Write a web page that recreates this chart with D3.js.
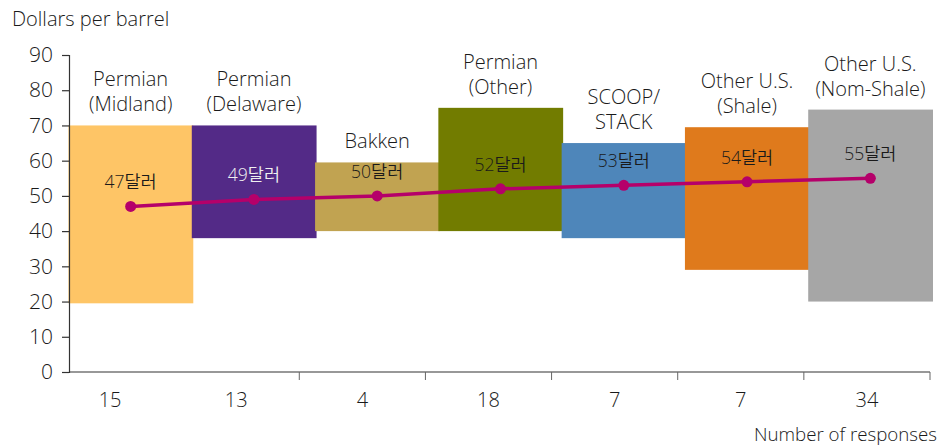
<!DOCTYPE html>
<html>
<head>
<meta charset="utf-8">
<script src="https://cdn.jsdelivr.net/npm/d3@7"></script>
<style>
  html, body { margin: 0; padding: 0; background: #fff; }
  svg { display: block; }
  text { font-family: "Open Sans", "Noto Sans CJK KR", sans-serif; font-weight: 350; fill: #1a1a1a; }
</style>
</head>
<body>
<svg id="chart" width="948" height="446"></svg>
<script>
// Breakeven price ranges by basin (dollars per barrel)
const basins = [
  ["Permian", "(Midland)"],
  ["Permian", "(Delaware)"],
  ["Bakken"],
  ["Permian", "(Other)"],
  ["SCOOP/", "STACK"],
  ["Other U.S.", "(Shale)"],
  ["Other U.S.", "(Nom-Shale)"]
];
const rangeLow  = [19.5, 38, 40, 40, 38, 29, 20];
const rangeHigh = [70, 70, 59.5, 75, 65, 69.5, 74.5];
const average   = [47, 49, 50, 52, 53, 54, 55];
const responses = [15, 13, 4, 18, 7, 7, 34];
const yTicks    = [0, 10, 20, 30, 40, 50, 60, 70, 80, 90];

const barColors = ["#FEC566", "#532A87", "#C1A351", "#727C00", "#4E86BA", "#DF7A1C", "#A6A6A6"];
const valueInk  = ["#1a1a1a", "#f0f0f0", "#1a1a1a", "#1a1a1a", "#1a1a1a", "#1a1a1a", "#1a1a1a"];
const lineColor = "#B5006A";

const svg = d3.select("#chart");
const idx = d3.range(basins.length);

const x = d3.scaleBand().domain(idx).range([69, 932]).padding(0);
const xResp = d3.scaleBand().domain(idx).range([47, 930]).padding(0);
const y = d3.scaleLinear().domain([0, 90]).range([372, 55]);

// floating range bars
svg.append("g").selectAll("rect")
  .data(idx)
  .join("rect")
  .attr("x", i => x(i) - 0.5)
  .attr("width", x.bandwidth() + 1.5)
  .attr("y", i => y(rangeHigh[i]))
  .attr("height", i => y(rangeLow[i]) - y(rangeHigh[i]))
  .attr("fill", i => barColors[i]);

// basin names above each bar
const names = svg.append("g").selectAll("text")
  .data(idx)
  .join("text")
  .attr("text-anchor", "middle")
  .attr("font-size", 20)
  .attr("x", i => x(i) + x.bandwidth() / 2)
  .attr("y", i => y(rangeHigh[i]) - 14 - (basins[i].length - 1) * 25);
names.selectAll("tspan")
  .data(i => basins[i].map(line => ({ line, i })))
  .join("tspan")
  .attr("x", d => x(d.i) + x.bandwidth() / 2)
  .attr("dy", (d, k) => k === 0 ? 0 : 25)
  .text(d => d.line);

// y axis
const yAxis = svg.append("g")
  .attr("transform", "translate(69,0)")
  .call(d3.axisLeft(y).tickValues(yTicks).tickSize(7).tickPadding(9));
yAxis.select(".domain").attr("stroke", "#333").attr("stroke-width", 1.2);
yAxis.selectAll(".tick line").attr("stroke", "#333").attr("stroke-width", 1.2);
yAxis.selectAll(".tick text")
  .attr("font-size", 21)
  .attr("font-family", "\"Open Sans\", sans-serif")
  .attr("font-weight", 350)
  .attr("fill", "#1a1a1a");

// x axis: number of responses per basin
const xAxis = svg.append("g").attr("transform", "translate(0,372)");
xAxis.append("line")
  .attr("x1", 69).attr("x2", xResp.range()[1])
  .attr("stroke", "#333").attr("stroke-width", 1.2);
xAxis.selectAll("line.tk")
  .data(idx.slice(1))
  .join("line")
  .attr("class", "tk")
  .attr("x1", i => xResp(i) + xResp.bandwidth())
  .attr("x2", i => xResp(i) + xResp.bandwidth())
  .attr("y1", 0).attr("y2", 8)
  .attr("stroke", "#666").attr("stroke-width", 1);
xAxis.selectAll("text")
  .data(idx)
  .join("text")
  .attr("text-anchor", "middle")
  .attr("font-size", 20)
  .attr("x", i => xResp(i) + xResp.bandwidth() / 2)
  .attr("y", 35)
  .text(i => responses[i]);

// average line with markers
const px = i => x(i) + x.bandwidth() / 2;
svg.append("path")
  .datum(idx)
  .attr("fill", "none")
  .attr("stroke", lineColor)
  .attr("stroke-width", 3.5)
  .attr("d", d3.line().x(px).y(i => y(average[i])));
svg.append("g").selectAll("circle")
  .data(idx)
  .join("circle")
  .attr("cx", px)
  .attr("cy", i => y(average[i]))
  .attr("r", 5.5)
  .attr("fill", lineColor);

// average value labels
svg.append("g").selectAll("text")
  .data(idx)
  .join("text")
  .attr("text-anchor", "middle")
  .attr("font-size", 17.5)
  .attr("x", px)
  .attr("y", i => y(average[i]) - 18)
  .style("fill", i => valueInk[i])
  .text(i => average[i] + "달러");

// axis titles
svg.append("text")
  .attr("x", 12).attr("y", 26)
  .attr("font-size", 20)
  .text("Dollars per barrel");
svg.append("text")
  .attr("x", 937).attr("y", 441)
  .attr("text-anchor", "end")
  .attr("font-size", 18.7)
  .text("Number of responses");
</script>
</body>
</html>
